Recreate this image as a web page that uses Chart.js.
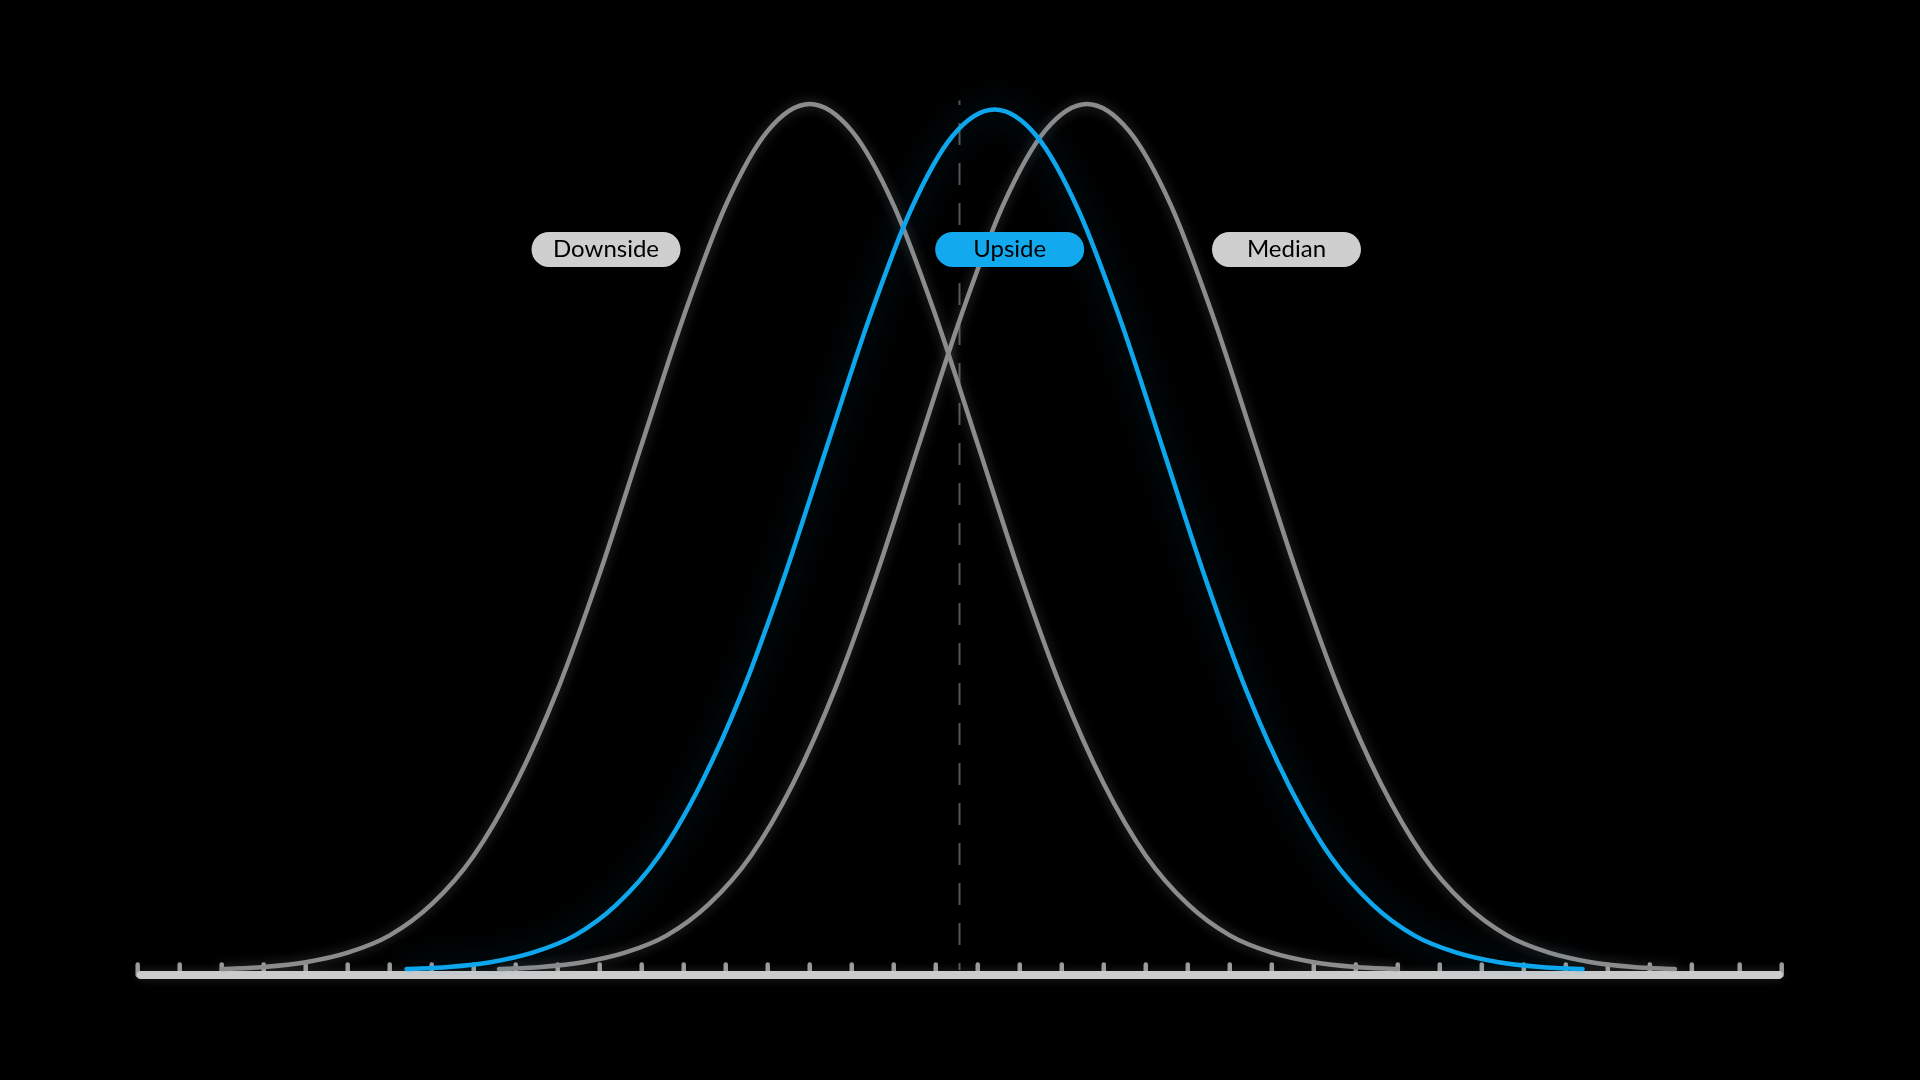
<!DOCTYPE html>
<html>
<head>
<meta charset="utf-8">
<title>Scenarios</title>
<script src="https://cdn.jsdelivr.net/npm/chart.js@4.4.1/dist/chart.umd.min.js"></script>
<style>
  html, body { margin: 0; padding: 0; background: #000; }
  canvas { display: block; }
</style>
</head>
<body>
<canvas id="chart" width="1920" height="1080"></canvas>
<script>
// x positions are in tick units (one tick step = 1)
const DOWN_X = [2, 3, 4, 5, 6, 7, 8, 9, 10, 11, 12, 13, 14, 15, 16, 17, 18, 19, 20, 21, 22, 23, 24, 25, 26, 27, 28, 29, 30];
const DOWN_Y = [0.1, 0.35, 0.9, 2.0, 4.0, 7.6, 13.2, 21.5, 32.4, 45.8, 60.7, 75.5, 88.3, 96.9, 100, 96.9, 88.3, 75.5, 60.7, 45.8, 32.4, 21.5, 13.2, 7.6, 4.0, 2.0, 0.9, 0.35, 0.1];

const UP_X = [6.4, 7.4, 8.4, 9.4, 10.4, 11.4, 12.4, 13.4, 14.4, 15.4, 16.4, 17.4, 18.4, 19.4, 20.4, 21.4, 22.4, 23.4, 24.4, 25.4, 26.4, 27.4, 28.4, 29.4, 30.4, 31.4, 32.4, 33.4, 34.4];
const UP_Y = [0.1, 0.35, 0.9, 2.0, 3.97, 7.55, 13.1, 21.4, 32.2, 45.5, 60.3, 75.0, 87.7, 96.3, 99.35, 96.3, 87.7, 75.0, 60.3, 45.5, 32.2, 21.4, 13.1, 7.55, 3.97, 2.0, 0.9, 0.35, 0.1];

const MEDIAN_X = [8.6, 9.6, 10.6, 11.6, 12.6, 13.6, 14.6, 15.6, 16.6, 17.6, 18.6, 19.6, 20.6, 21.6, 22.6, 23.6, 24.6, 25.6, 26.6, 27.6, 28.6, 29.6, 30.6, 31.6, 32.6, 33.6, 34.6, 35.6, 36.6];
const MEDIAN_Y = [0.1, 0.35, 0.9, 2.0, 4.0, 7.6, 13.2, 21.5, 32.4, 45.8, 60.7, 75.5, 88.3, 96.9, 100, 96.9, 88.3, 75.5, 60.7, 45.8, 32.4, 21.5, 13.2, 7.6, 4.0, 2.0, 0.9, 0.35, 0.1];

const TICK_X = [0, 1, 2, 3, 4, 5, 6, 7, 8, 9, 10, 11, 12, 13, 14, 15, 16, 17, 18, 19, 20, 21, 22, 23, 24, 25, 26, 27, 28, 29, 30, 31, 32, 33, 34, 35, 36, 37, 38.14, 39.14];

const LABELS = ['Downside', 'Upside', 'Median'];
const LABEL_X = [11.15, 20.76, 27.35];
const LABEL_Y = 83.2;

const MARKER_X = 19.55;
const MARKER_TOP = 100.4;

const X_MAX = 39.14;
const Y_MIN = -0.58;
const Y_MAX = 105.08;

const BLUE = '#0ea6ec';
const GREY = '#8c8c8c';

function toPoints(xs, ys) {
  return xs.map((x, i) => ({ x: x, y: ys[i] }));
}

// soft glow around each curve
const glowPlugin = {
  id: 'glow',
  beforeDatasetDraw(chart, args) {
    const ds = chart.data.datasets[args.index];
    chart.ctx.save();
    chart.ctx.shadowColor = ds.glowColor;
    chart.ctx.shadowBlur = ds.glowBlur;
  },
  afterDatasetDraw(chart) {
    chart.ctx.restore();
  }
};

// baseline, upward ticks and dashed marker
const axisPlugin = {
  id: 'axisDecor',
  beforeDatasetsDraw(chart) {
    const ctx = chart.ctx;
    const xs = chart.scales.x;
    const ys = chart.scales.y;
    const base = chart.chartArea.bottom;

    ctx.save();
    // dashed marker
    const mx = Math.round(xs.getPixelForValue(MARKER_X)) + 0.5;
    ctx.strokeStyle = '#565656';
    ctx.lineWidth = 2;
    ctx.setLineDash([22, 18]);
    ctx.lineDashOffset = 15;
    ctx.beginPath();
    ctx.moveTo(mx, ys.getPixelForValue(0));
    ctx.lineTo(mx, ys.getPixelForValue(MARKER_TOP));
    ctx.stroke();
    ctx.setLineDash([]);

    // ticks
    ctx.strokeStyle = '#999999';
    ctx.lineWidth = 4.5;
    ctx.lineCap = 'round';
    TICK_X.forEach(v => {
      const px = xs.getPixelForValue(v);
      ctx.beginPath();
      ctx.moveTo(px, base);
      ctx.lineTo(px, base - 10.5);
      ctx.stroke();
    });

    // axis line
    ctx.shadowColor = 'rgba(255,255,255,0.15)';
    ctx.shadowBlur = 10;
    ctx.strokeStyle = '#cccccc';
    ctx.lineWidth = 8;
    ctx.beginPath();
    ctx.moveTo(xs.getPixelForValue(0) + 3, base);
    ctx.lineTo(xs.getPixelForValue(X_MAX) - 3, base);
    ctx.stroke();
    ctx.restore();
  },
  afterDatasetsDraw(chart) {
    const ctx = chart.ctx;
    const xs = chart.scales.x;
    const ys = chart.scales.y;
    const w = 149, h = 35;

    ctx.save();
    ctx.font = '24px Lato, "Open Sans", sans-serif';
    ctx.textAlign = 'center';
    ctx.textBaseline = 'middle';
    LABELS.forEach((text, i) => {
      const cx = xs.getPixelForValue(LABEL_X[i]);
      const cy = ys.getPixelForValue(LABEL_Y);
      ctx.fillStyle = i === 1 ? '#13a9ef' : '#cfcfcf';
      ctx.beginPath();
      ctx.roundRect(cx - w / 2, cy - h / 2, w, h, h / 2);
      ctx.fill();
      ctx.fillStyle = '#000000';
      ctx.fillText(text, cx, cy);
    });
    ctx.restore();
  }
};

function renderChart() {
  const canvas = document.getElementById('chart');

  const chartData = {
    datasets: [
      {
        label: 'Upside',
        data: toPoints(UP_X, UP_Y),
        borderColor: BLUE,
        borderWidth: 4.5,
        glowColor: 'rgba(14,166,236,0.35)',
        glowBlur: 30
      },
      {
        label: 'Downside',
        data: toPoints(DOWN_X, DOWN_Y),
        borderColor: GREY,
        borderWidth: 4.5,
        glowColor: 'rgba(200,200,200,0.3)',
        glowBlur: 12
      },
      {
        label: 'Median',
        data: toPoints(MEDIAN_X, MEDIAN_Y),
        borderColor: GREY,
        borderWidth: 4.5,
        glowColor: 'rgba(200,200,200,0.3)',
        glowBlur: 12
      }
    ]
  };

  new Chart(canvas, {
    type: 'line',
    data: chartData,
    options: {
      responsive: false,
      animation: false,
      layout: { padding: { left: 137.7, right: 138.3, top: 60, bottom: 105 } },
      elements: {
        point: { radius: 0 },
        line: { cubicInterpolationMode: 'monotone', fill: false, borderCapStyle: 'round' }
      },
      scales: {
        x: { type: 'linear', min: 0, max: X_MAX, display: false },
        y: { type: 'linear', min: Y_MIN, max: Y_MAX, display: false }
      },
      plugins: {
        legend: { display: false },
        tooltip: { enabled: false }
      }
    },
    plugins: [glowPlugin, axisPlugin]
  });
}

window.addEventListener('load', renderChart);
</script>
</body>
</html>
